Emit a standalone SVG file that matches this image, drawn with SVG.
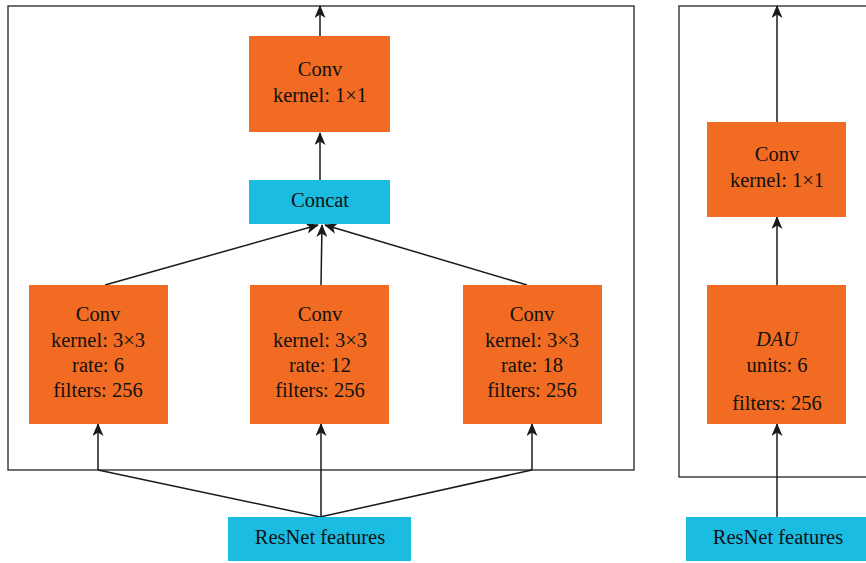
<svg xmlns="http://www.w3.org/2000/svg" width="866" height="563" viewBox="0 0 866 563">
  <defs>
    <marker id="arrow" viewBox="0 0 13 11" refX="12" refY="5.5" markerWidth="13" markerHeight="11" markerUnits="userSpaceOnUse" orient="auto">
      <path d="M0,0 L13,5.5 L0,11 L3.5,5.5 Z" fill="#1a1a1a"/>
    </marker>
    <style>
      .frame { fill: none; stroke: #333; stroke-width: 1.4; }
      .conv { fill: #F26B22; }
      .feat { fill: #1ABDE1; }
      .lbl { font-family: "Liberation Serif", "Times New Roman", serif; font-size: 20.5px; fill: #111; text-anchor: middle; }
      .edge { fill: none; stroke: #1a1a1a; stroke-width: 1.5; }
      .arr { marker-end: url(#arrow); }
    </style>
  </defs>

  <rect width="866" height="563" fill="#fff"/>

  <!-- module frames -->
  <rect class="frame" x="8" y="6" width="626" height="464"/>
  <rect class="frame" x="679" y="6" width="200" height="471"/>

  <!-- connectors -->
  <g id="connectors">
    <!-- ASPP branch -->
    <line class="edge arr" x1="320" y1="36" x2="320" y2="6"/>
    <line class="edge arr" x1="320" y1="180" x2="320" y2="133"/>
    <line class="edge arr" x1="105" y1="285" x2="318" y2="225"/>
    <line class="edge arr" x1="321" y1="285" x2="322" y2="225"/>
    <line class="edge arr" x1="527" y1="285" x2="325" y2="225"/>
    <polyline class="edge" points="98,470 320,517 532,470"/>
    <line class="edge arr" x1="98" y1="470" x2="98" y2="424"/>
    <line class="edge arr" x1="321" y1="517" x2="321" y2="424"/>
    <line class="edge arr" x1="532" y1="470" x2="532" y2="424"/>
    <!-- DAU branch -->
    <line class="edge arr" x1="777" y1="122" x2="777" y2="6"/>
    <line class="edge arr" x1="777" y1="285" x2="777" y2="217"/>
    <line class="edge arr" x1="777" y1="517" x2="777" y2="424"/>
  </g>

  <!-- nodes -->
  <g id="conv1x1-a">
    <rect class="conv" x="249" y="36" width="141" height="96"/>
    <text class="lbl" x="320" y="76">Conv</text>
    <text class="lbl" x="320" y="102">kernel: 1×1</text>
  </g>
  <g id="concat">
    <rect class="feat" x="249" y="180" width="141" height="44"/>
    <text class="lbl" x="320" y="207">Concat</text>
  </g>
  <g id="conv-rate6">
    <rect class="conv" x="29" y="285" width="139" height="139"/>
    <text class="lbl" x="98" y="321">Conv</text>
    <text class="lbl" x="98" y="347">kernel: 3×3</text>
    <text class="lbl" x="98" y="372">rate: 6</text>
    <text class="lbl" x="98" y="397">filters: 256</text>
  </g>
  <g id="conv-rate12">
    <rect class="conv" x="250" y="285" width="139" height="139"/>
    <text class="lbl" x="320" y="321">Conv</text>
    <text class="lbl" x="320" y="347">kernel: 3×3</text>
    <text class="lbl" x="320" y="372">rate: 12</text>
    <text class="lbl" x="320" y="397">filters: 256</text>
  </g>
  <g id="conv-rate18">
    <rect class="conv" x="463" y="285" width="139" height="139"/>
    <text class="lbl" x="532" y="321">Conv</text>
    <text class="lbl" x="532" y="347">kernel: 3×3</text>
    <text class="lbl" x="532" y="372">rate: 18</text>
    <text class="lbl" x="532" y="397">filters: 256</text>
  </g>
  <g id="resnet-a">
    <rect class="feat" x="228" y="517" width="183" height="44"/>
    <text class="lbl" x="320" y="544">ResNet features</text>
  </g>

  <g id="conv1x1-b">
    <rect class="conv" x="707" y="122" width="139" height="95"/>
    <text class="lbl" x="777" y="161">Conv</text>
    <text class="lbl" x="777" y="187">kernel: 1×1</text>
  </g>
  <g id="dau">
    <rect class="conv" x="707" y="285" width="139" height="139"/>
    <text class="lbl" x="777" y="346" font-style="italic">DAU</text>
    <text class="lbl" x="777" y="372">units: 6</text>
    <text class="lbl" x="777" y="410">filters: 256</text>
  </g>
  <g id="resnet-b">
    <rect class="feat" x="686" y="517" width="190" height="44"/>
    <text class="lbl" x="778" y="544">ResNet features</text>
  </g>
</svg>
